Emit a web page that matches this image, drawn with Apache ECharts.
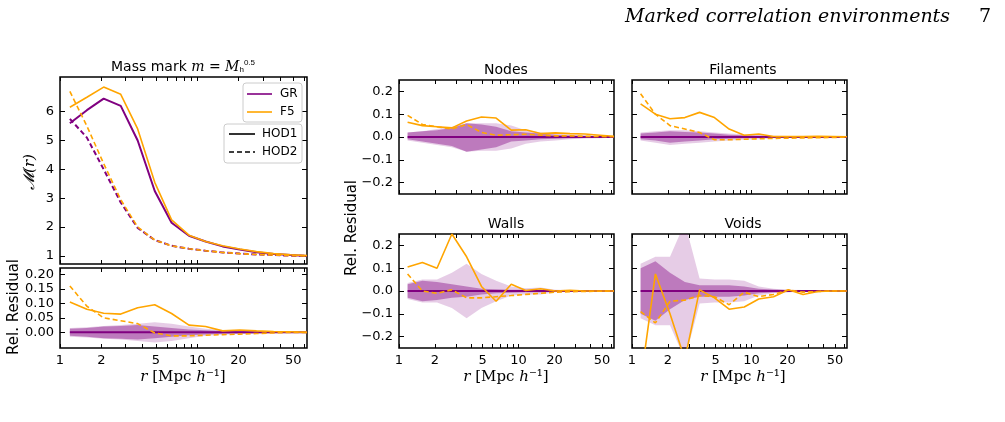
<!DOCTYPE html>
<html><head><meta charset="utf-8">
<script src="https://cdn.jsdelivr.net/npm/echarts@6/dist/echarts.min.js"></script>
<style>html,body{margin:0;padding:0;background:#fff}#c{width:1005px;height:422px}</style>
</head><body><div id="c"></div>
<script>
const R = [1.18,1.57,2.08,2.77,3.68,4.9,6.5,8.7,11.5,15.3,20.4,27,36,48,63];
const xTickLabels = [1,2,5,10,20,50];
const massGR_H1 = [5.6,6.05,6.45,6.2,5.0,3.25,2.15,1.7,1.5,1.33,1.22,1.13,1.07,1.03,1.0];
const massF5_H1 = [6.15,6.5,6.85,6.6,5.4,3.55,2.25,1.72,1.5,1.35,1.24,1.15,1.08,1.04,1.01];
const massGR_H2 = [5.75,5.1,4.0,2.85,1.97,1.55,1.35,1.25,1.18,1.12,1.08,1.05,1.03,1.01,1.0];
const massF5_H2 = [6.7,5.5,4.2,2.95,2.0,1.55,1.35,1.25,1.18,1.12,1.08,1.05,1.03,1.01,1.0];
const massRes_H1 = [0.105,0.08,0.066,0.063,0.085,0.095,0.065,0.025,0.02,0.005,0.008,0.005,0.003,0.002,0];
const massRes_H2 = [0.16,0.09,0.05,0.04,0.03,-0.002,-0.012,-0.012,-0.01,-0.008,-0.006,-0.004,-0.002,0,0];
const massDarkUp = [0.012,0.015,0.02,0.022,0.025,0.02,0.015,0.01,0.007,0.005,0.004,0.003,0.002,0.001,0.001];
const massDarkLo = [-0.012,-0.015,-0.02,-0.022,-0.025,-0.02,-0.015,-0.01,-0.007,-0.005,-0.004,-0.003,-0.002,-0.001,-0.001];
const massLightUp = [0.015,0.018,0.022,0.025,0.03,0.035,0.03,0.02,0.012,0.008,0.006,0.004,0.003,0.002,0.001];
const massLightLo = [-0.015,-0.018,-0.022,-0.025,-0.03,-0.035,-0.03,-0.02,-0.012,-0.008,-0.006,-0.004,-0.003,-0.002,-0.001];

const nodesH1 = [0.065,0.05,0.045,0.04,0.07,0.088,0.083,0.03,0.032,0.015,0.018,0.015,0.013,0.008,0.003];
const nodesH2 = [0.095,0.055,0.045,0.035,0.055,0.02,0.008,0.01,0.012,0.008,0.005,0.005,0.003,0.002,0.001];
const nodesDarkUp = [0.02,0.025,0.03,0.04,0.06,0.055,0.045,0.025,0.02,0.015,0.01,0.007,0.005,0.003,0.002];
const nodesDarkLo = [-0.01,-0.02,-0.03,-0.04,-0.065,-0.055,-0.045,-0.02,-0.015,-0.01,-0.008,-0.006,-0.004,-0.003,-0.002];
const nodesLightUp = [0.02,0.025,0.035,0.045,0.06,0.06,0.06,0.05,0.03,0.02,0.015,0.01,0.007,0.005,0.003];
const nodesLightLo = [-0.015,-0.025,-0.035,-0.045,-0.065,-0.06,-0.06,-0.05,-0.03,-0.02,-0.015,-0.01,-0.007,-0.005,-0.003];

const filH1 = [0.145,0.1,0.08,0.085,0.108,0.085,0.035,0.008,0.013,0.002,0.002,0.002,0.003,0.002,0.001];
const filH2 = [0.19,0.1,0.05,0.035,0.02,-0.012,-0.012,-0.01,-0.008,-0.006,-0.005,-0.004,-0.003,-0.002,0];
const filDarkUp = [0.015,0.02,0.025,0.022,0.02,0.015,0.01,0.008,0.005,0.004,0.003,0.002,0.002,0.001,0.001];
const filDarkLo = [-0.01,-0.015,-0.025,-0.02,-0.015,-0.01,-0.008,-0.005,-0.004,-0.003,-0.002,-0.002,-0.001,-0.001,-0.001];
const filLightUp = [0.02,0.025,0.03,0.03,0.025,0.02,0.015,0.012,0.01,0.006,0.004,0.003,0.002,0.002,0.001];
const filLightLo = [-0.015,-0.025,-0.035,-0.03,-0.025,-0.02,-0.015,-0.012,-0.01,-0.006,-0.004,-0.003,-0.002,-0.002,-0.001];

const wallsH1 = [0.105,0.125,0.1,0.25,0.15,0.02,-0.045,0.03,0.002,0.01,0,0.003,0,0,0];
const wallsH2 = [0.075,0,-0.01,0.005,-0.03,-0.03,-0.025,-0.02,-0.015,-0.01,-0.005,-0.003,-0.002,-0.001,0];
const wallsDarkUp = [0.03,0.045,0.04,0.03,0.02,0.01,0.008,0.006,0.005,0.004,0.003,0.002,0.002,0.001,0.001];
const wallsDarkLo = [-0.03,-0.045,-0.04,-0.03,-0.025,-0.015,-0.01,-0.008,-0.006,-0.005,-0.003,-0.002,-0.002,-0.001,-0.001];
const wallsLightUp = [0.035,0.05,0.05,0.08,0.12,0.075,0.045,0.02,0.012,0.015,0.006,0.004,0.003,0.002,0.001];
const wallsLightLo = [-0.035,-0.05,-0.05,-0.075,-0.12,-0.075,-0.045,-0.02,-0.015,-0.015,-0.006,-0.004,-0.003,-0.002,-0.001];

const voidsH1 = [-0.4,0.075,-0.1,-0.3,0.005,-0.03,-0.08,-0.07,-0.035,-0.025,0.005,-0.015,-0.002,0,0];
const voidsH2 = [-0.09,-0.14,-0.045,-0.04,-0.02,-0.025,-0.06,-0.005,-0.025,-0.015,0.005,-0.005,-0.002,0,0];
const voidsDarkUp = [0.1,0.13,0.08,0.04,0.025,0.025,0.025,0.02,0.01,0.007,0.004,0.003,0.002,0.001,0.001];
const voidsDarkLo = [-0.1,-0.13,-0.08,-0.04,-0.025,-0.025,-0.025,-0.02,-0.01,-0.007,-0.004,-0.003,-0.002,-0.001,-0.001];
const voidsLightUp = [0.12,0.15,0.15,0.3,0.055,0.05,0.05,0.045,0.02,0.01,0.005,0.004,0.003,0.002,0.001];
const voidsLightLo = [-0.12,-0.15,-0.15,-0.3,-0.055,-0.05,-0.05,-0.045,-0.02,-0.01,-0.005,-0.004,-0.003,-0.002,-0.001];

const PURPLE = '#800080', ORANGE = '#ffa500';
const FONT = 'DejaVu Sans';
const L = Math.log10;
const pts = arr => arr.map((v,i)=>[L(R[i]), v]);
const minorX = [];
[1,10].forEach(d=>{for(let k=1;k<10;k++){ if(d*k<=63) minorX.push(L(d*k)); }});
minorX.push(L(60));

const grids = [
  {left:60, top:77, width:247, height:187},
  {left:60, top:268, width:247, height:80},
  {left:399, top:80, width:215, height:114},
  {left:632, top:80, width:215, height:114},
  {left:399, top:234, width:215, height:114},
  {left:632, top:234, width:215, height:114},
];
const yCfg = [
  {min:0.72, max:7.2, ticks:[1,2,3,4,5,6], fmt:v=>String(Math.round(v)), labels:true},
  {min:-0.054, max:0.222, ticks:[0,0.05,0.1,0.15,0.2], fmt:v=>v.toFixed(2), labels:true},
  {min:-0.25, max:0.25, ticks:[-0.2,-0.1,0,0.1,0.2], fmt:v=>v.toFixed(1).replace('-','−'), labels:true},
  {min:-0.25, max:0.25, ticks:[-0.2,-0.1,0,0.1,0.2], fmt:v=>v.toFixed(1), labels:false},
  {min:-0.25, max:0.25, ticks:[-0.2,-0.1,0,0.1,0.2], fmt:v=>v.toFixed(1).replace('-','−'), labels:true},
  {min:-0.25, max:0.25, ticks:[-0.2,-0.1,0,0.1,0.2], fmt:v=>v.toFixed(1), labels:false},
];
const xLabelsOn = [false,true,false,false,true,true];
const xAxis=[], yAxis=[];
grids.forEach((g,i)=>{
  const base = {type:'value', gridIndex:i, min:0, max:L(63),
    axisLine:{show:false, onZero:false}, splitLine:{show:false},
    axisTick:{inside:true, length:4, customValues:minorX, lineStyle:{color:'#000'}}};
  xAxis.push(Object.assign({}, base, {position:'bottom',
    axisLabel:{show:xLabelsOn[i], customValues:xTickLabels.map(L), formatter:v=>String(Math.round(Math.pow(10,v))), color:'#000', fontSize:13, fontFamily:FONT, margin:6}}));
  xAxis.push(Object.assign({}, base, {position:'top', axisLabel:{show:false}}));
  const c = yCfg[i];
  const yb = {type:'value', gridIndex:i, min:c.min, max:c.max, axisLine:{show:false, onZero:false}, splitLine:{show:false},
    axisTick:{inside:true, length:5, customValues:c.ticks, lineStyle:{color:'#000'}}};
  yAxis.push(Object.assign({}, yb, {position:'left',
    axisLabel:{show:c.labels, customValues:c.ticks, formatter:c.fmt, color:'#000', fontSize:13, fontFamily:FONT, margin:6}}));
  yAxis.push(Object.assign({}, yb, {position:'right', axisLabel:{show:false}}));
});
grids.forEach(g=>{g.show=true; g.borderColor='#000'; g.borderWidth=1.5; g.backgroundColor='transparent';});

const series=[];
function line(gi, data, color, dashed, w){
  series.push({type:'line', xAxisIndex:gi*2, yAxisIndex:gi*2, data:pts(data), showSymbol:false, symbol:'none',
    clip:true, silent:true, lineStyle:{color, width:w||1.6, type: dashed?[5,3]:'solid'}, z:5});
}
function band(gi, lo, up, op){
  const rows = R.map((r,i)=>[L(r), lo[i], up[i]]);
  series.push({type:'custom', xAxisIndex:gi*2, yAxisIndex:gi*2, data:rows, clip:true, silent:true, z:2,
    encode:{x:0, y:[1,2]},
    renderItem:(params, api)=>{
      if (params.dataIndex !== 0) return null;
      const top = rows.map(d=>api.coord([d[0], d[2]]));
      const bot = rows.map(d=>api.coord([d[0], d[1]])).reverse();
      return {type:'polygon', shape:{points: top.concat(bot)}, style:{fill:PURPLE, opacity:op}};
    }});
}
const zeros = R.map(()=>0);
line(0, massGR_H1, PURPLE, false, 2); line(0, massGR_H2, PURPLE, true, 2);
line(0, massF5_H1, ORANGE, false); line(0, massF5_H2, ORANGE, true);
const resid = [
  [1, massLightLo, massLightUp, massDarkLo, massDarkUp, massRes_H1, massRes_H2],
  [2, nodesLightLo, nodesLightUp, nodesDarkLo, nodesDarkUp, nodesH1, nodesH2],
  [3, filLightLo, filLightUp, filDarkLo, filDarkUp, filH1, filH2],
  [4, wallsLightLo, wallsLightUp, wallsDarkLo, wallsDarkUp, wallsH1, wallsH2],
  [5, voidsLightLo, voidsLightUp, voidsDarkLo, voidsDarkUp, voidsH1, voidsH2],
];
resid.forEach(([gi,llo,lup,dlo,dup,h1,h2])=>{
  band(gi, llo, lup, 0.2);
  band(gi, dlo, dup, 0.4);
  line(gi, zeros, PURPLE, false, 2);
  line(gi, h1, ORANGE, false);
  line(gi, h2, ORANGE, true);
});

const T = (x,y,text,opt)=>({type:'text', x, y, style:Object.assign({text, fill:'#000', font:'14px "DejaVu Sans"', textAlign:'center', textVerticalAlign:'middle'}, opt||{})});
const xlab = cx => ({type:'text', x:cx, y:377, style:{text:'{i|r} [Mpc {i|h}⁻¹]', fill:'#000', font:'15px "DejaVu Serif"', textAlign:'center', textVerticalAlign:'middle',
  rich:{i:{fontStyle:'italic', fontFamily:'DejaVu Serif', fontSize:15}}}});
const graphic = [
  T(950,17,'Marked correlation environments',{font:'italic 19px "DejaVu Serif"', textAlign:'right'}),
  T(985,17,'7',{font:'19px "DejaVu Serif"'}),
  {type:'text', x:183, y:67, style:{text:'Mass mark {i|m} = {i|M}{s|h}{p|0.5}', textAlign:'center', textVerticalAlign:'middle', fill:'#000', font:'14px "DejaVu Sans"',
    rich:{i:{fontFamily:'DejaVu Serif', fontStyle:'italic', fontSize:14}, s:{fontSize:8, padding:[6,0,0,0]}, p:{fontSize:8, padding:[0,0,8,0]}}}},
  T(506,70,'Nodes'), T(743,70,'Filaments'), T(506,224,'Walls'), T(743,224,'Voids'),
  xlab(183), xlab(506), xlab(743),
  {type:'text', x:30, y:172, rotation:Math.PI/2, style:{text:'𝓜(r)', fill:'#000', font:'italic 15px "DejaVu Serif"', textAlign:'center', textVerticalAlign:'middle'}},
  {type:'text', x:14, y:307, rotation:Math.PI/2, style:{text:'Rel. Residual', fill:'#000', font:'15px "DejaVu Sans"', textAlign:'center', textVerticalAlign:'middle'}},
  {type:'text', x:352, y:228, rotation:Math.PI/2, style:{text:'Rel. Residual', fill:'#000', font:'15px "DejaVu Sans"', textAlign:'center', textVerticalAlign:'middle'}},
  {type:'rect', shape:{x:243,y:83,width:59,height:39,r:3}, style:{fill:'#fff', stroke:'#ccc', lineWidth:1}, z:10},
  {type:'line', shape:{x1:247,y1:94,x2:272,y2:94}, style:{stroke:PURPLE, lineWidth:1.6}, z:11},
  {type:'line', shape:{x1:247,y1:112,x2:272,y2:112}, style:{stroke:ORANGE, lineWidth:1.6}, z:11},
  {type:'text', x:280, y:94, style:{text:'GR', fill:'#000', font:'12px "DejaVu Sans"', textVerticalAlign:'middle'}, z:11},
  {type:'text', x:280, y:112, style:{text:'F5', fill:'#000', font:'12px "DejaVu Sans"', textVerticalAlign:'middle'}, z:11},
  {type:'rect', shape:{x:224,y:124,width:78,height:39,r:3}, style:{fill:'#fff', stroke:'#ccc', lineWidth:1}, z:10},
  {type:'line', shape:{x1:229,y1:134,x2:255,y2:134}, style:{stroke:'#000', lineWidth:1.6}, z:11},
  {type:'line', shape:{x1:229,y1:152,x2:255,y2:152}, style:{stroke:'#000', lineWidth:1.6, lineDash:[5,3]}, z:11},
  {type:'text', x:262, y:134, style:{text:'HOD1', fill:'#000', font:'12px "DejaVu Sans"', textVerticalAlign:'middle'}, z:11},
  {type:'text', x:262, y:152, style:{text:'HOD2', fill:'#000', font:'12px "DejaVu Sans"', textVerticalAlign:'middle'}, z:11},
];

const chart = echarts.init(document.getElementById('c'), null, {renderer:'canvas'});
chart.setOption({animation:false, backgroundColor:'#fff', grid:grids, xAxis, yAxis, series, graphic});
</script></body></html>
